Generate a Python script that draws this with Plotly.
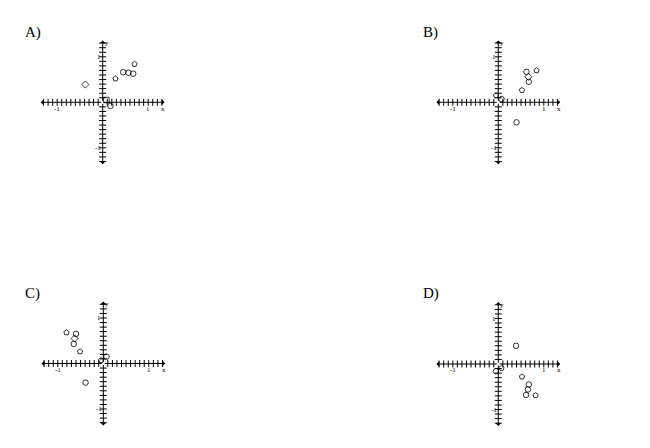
import plotly.graph_objects as go

# точки на каждой из четырёх плоскостей
a_x = [-0.38, 0.28, 0.45, 0.565, 0.67, 0.70, 0.08, 0.17]
a_y = [0.39, 0.52, 0.66, 0.65, 0.63, 0.84, 0.05, -0.08]
a_sym = ['diamond-open', 'pentagon-open', 'circle-open', 'circle-open', 'circle-open', 'pentagon-open', 'square-open', 'circle-open']

b_x = [-0.05, 0.07, 0.52, 0.62, 0.66, 0.67, 0.84, 0.40]
b_y = [0.15, 0.07, 0.265, 0.67, 0.56, 0.45, 0.70, -0.44]
b_sym = ['pentagon-open', 'circle-open', 'pentagon-open', 'circle-open', 'diamond-open', 'circle-open', 'pentagon-open', 'circle-open']

c_x = [-0.81, -0.60, -0.63, -0.65, -0.51, -0.05, 0.07, -0.39]
c_y = [0.68, 0.65, 0.55, 0.43, 0.26, 0.07, 0.15, -0.42]
c_sym = ['pentagon-open', 'circle-open', 'diamond-open', 'circle-open', 'pentagon-open', 'pentagon-open', 'circle-open', 'circle-open']

d_x = [0.39, -0.05, 0.07, 0.52, 0.67, 0.65, 0.61, 0.82]
d_y = [0.40, -0.16, -0.09, -0.28, -0.45, -0.56, -0.68, -0.69]
d_sym = ['circle-open', 'circle-open', 'pentagon-open', 'pentagon-open', 'circle-open', 'circle-open', 'circle-open', 'pentagon-open']

labels = ['A)', 'B)', 'C)', 'D)']
tick_vals = [round(i / 10, 1) for i in range(-13, 14) if i != 0]
ext = 1.36
# страница добавляет отступ 8px у body
off = 8
W, H = 650 - 2 * off, 448 - 2 * off

# центры осей в пикселях (по картинке) и положение подписи
panels = [
    (labels[0], a_x, a_y, a_sym, (102.7, 102.3), (23, 32.5)),
    (labels[1], b_x, b_y, b_sym, (498.3, 102.3), (421, 32.5)),
    (labels[2], c_x, c_y, c_sym, (103.3, 363.5), (23, 293)),
    (labels[3], d_x, d_y, d_sym, (498.3, 364), (421, 293)),
]

fig = go.Figure()
half = 63.7
for i, (lab, xs, ys, syms, (cx, cy), (lx, ly)) in enumerate(panels):
    cx, cy, lx, ly = cx - off, cy - off, lx - off, ly - off
    n = '' if i == 0 else str(i + 1)
    xa, ya = 'x' + n, 'y' + n
    # деления на осях
    fig.add_trace(go.Scatter(x=tick_vals, y=[0] * len(tick_vals), mode='markers', xaxis=xa, yaxis=ya,
                             marker=dict(symbol='line-ns', size=5, line=dict(width=1, color='black')),
                             hoverinfo='skip', showlegend=False))
    fig.add_trace(go.Scatter(x=[0] * len(tick_vals), y=tick_vals, mode='markers', xaxis=xa, yaxis=ya,
                             marker=dict(symbol='line-ew', size=5, line=dict(width=1, color='black')),
                             hoverinfo='skip', showlegend=False))
    # сами точки
    fig.add_trace(go.Scatter(x=xs, y=ys, mode='markers', xaxis=xa, yaxis=ya,
                             marker=dict(symbol=syms, size=5.5, color='black', line=dict(width=0.8, color='black')),
                             showlegend=False))
    fig.layout['xaxis' + n] = dict(domain=[(cx - half) / W, (cx + half) / W], range=[-1.4, 1.4],
                                   visible=False, anchor=ya, fixedrange=True)
    fig.layout['yaxis' + n] = dict(domain=[1 - (cy + half) / H, 1 - (cy - half) / H], range=[-1.4, 1.4],
                                   visible=False, anchor=xa, fixedrange=True)
    # оси со стрелками
    for (x0, y0, x1, y1) in [(0, 0, ext, 0), (0, 0, -ext, 0), (0, 0, 0, ext), (0, 0, 0, -ext)]:
        fig.add_annotation(x=x1, y=y1, ax=x0, ay=y0, xref=xa, yref=ya, axref=xa, ayref=ya, text='',
                           showarrow=True, arrowhead=1, arrowsize=0.9, arrowwidth=1, arrowcolor='black')
    small = dict(family='Liberation Serif', size=7, color='black')
    for tx, ty, tt in [(1.0, -0.14, '1'), (-1.0, -0.14, '-1'), (1.33, -0.14, 'x'),
                       (-0.09, 1.0, '1'), (-0.1, -1.0, '-1'), (0.09, 1.3, 'y')]:
        fig.add_annotation(x=tx, y=ty, xref=xa, yref=ya, text=tt, showarrow=False, font=small)
    fig.add_annotation(x=lx / W, y=1 - ly / H, xref='paper', yref='paper', text=lab, showarrow=False,
                       xanchor='left', yanchor='middle',
                       font=dict(family='Liberation Serif', size=15, color='black'))

fig.update_layout(width=W, height=H, margin=dict(l=0, r=0, t=0, b=0),
                  paper_bgcolor='white', plot_bgcolor='white')
fig.write_html("out.html")
